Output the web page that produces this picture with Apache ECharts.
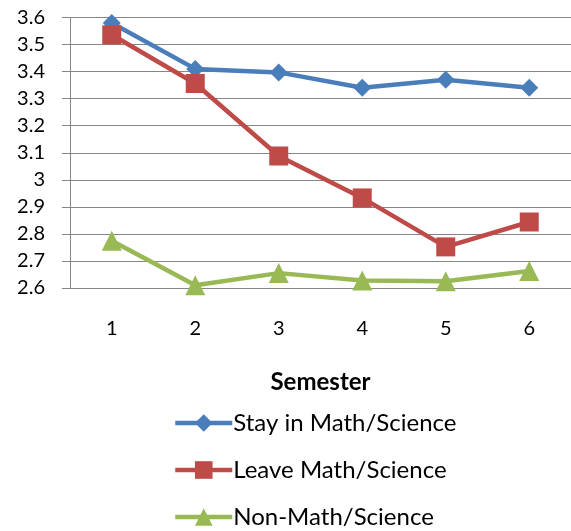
<!DOCTYPE html>
<html><head><meta charset="utf-8">
<script src="https://cdn.jsdelivr.net/npm/echarts@6/dist/echarts.min.js"></script>
<style>html,body{margin:0;padding:0;background:#fff}#c{width:571px;height:531px}</style>
</head><body><div id="c"></div>
<script>
var categories = ['1','2','3','4','5','6'];
var stayValues = [3.58, 3.41, 3.397, 3.34, 3.37, 3.34];
var leaveValues = [3.536, 3.356, 3.088, 2.933, 2.752, 2.844];
var nonValues = [2.775, 2.61, 2.655, 2.628, 2.625, 2.663];
var seriesNames = ['Stay in Math/Science', 'Leave Math/Science', 'Non-Math/Science'];
var FONT = 'Lato, "Open Sans", sans-serif';
var chart = echarts.init(document.getElementById('c'));
function mk(name, data, color, symbol, size) {
  return {
    name: name, type: 'line', data: data, symbol: symbol, symbolSize: size,
    lineStyle: {color: color, width: 4.5}, itemStyle: {color: color},
    showSymbol: true, animation: false
  };
}
chart.setOption({
  animation: false,
  grid: {left: 70, right: -4, top: 17.5, bottom: 243},
  xAxis: {
    type: 'category', data: categories, boundaryGap: true,
    axisLine: {lineStyle: {color: '#868686', width: 1}},
    axisTick: {length: 7, lineStyle: {color: '#868686'}},
    axisLabel: {color: '#000', fontSize: 20, fontFamily: FONT, margin: 31},
    name: 'Semester', nameLocation: 'middle', nameGap: 82,
    nameTextStyle: {color: '#000', fontSize: 24, fontWeight: 'bold', fontFamily: FONT}
  },
  yAxis: {
    type: 'value', min: 2.6, max: 3.6, interval: 0.1,
    axisLine: {show: true, lineStyle: {color: '#868686', width: 1}},
    axisTick: {show: true, length: 8, lineStyle: {color: '#868686'}},
    axisLabel: {color: '#000', fontSize: 20, fontFamily: FONT, margin: 25},
    splitLine: {lineStyle: {color: '#868686', width: 1}}
  },
  legend: {
    orient: 'vertical', left: 173, top: 411, padding: 0, itemWidth: 57, itemHeight: 22, itemGap: 23,
    lineStyle: {width: 4.5},
    textStyle: {color: '#000', fontSize: 24, fontFamily: FONT, lineHeight: 24, padding: [0,0,0,-4]},
    data: seriesNames
  },
  series: [
    mk(seriesNames[0], stayValues, '#4A7EBB', 'diamond', 18),
    mk(seriesNames[1], leaveValues, '#BE4B48', 'rect', 19),
    mk(seriesNames[2], nonValues, '#98B954', 'triangle', 20)
  ]
});
</script></body></html>
